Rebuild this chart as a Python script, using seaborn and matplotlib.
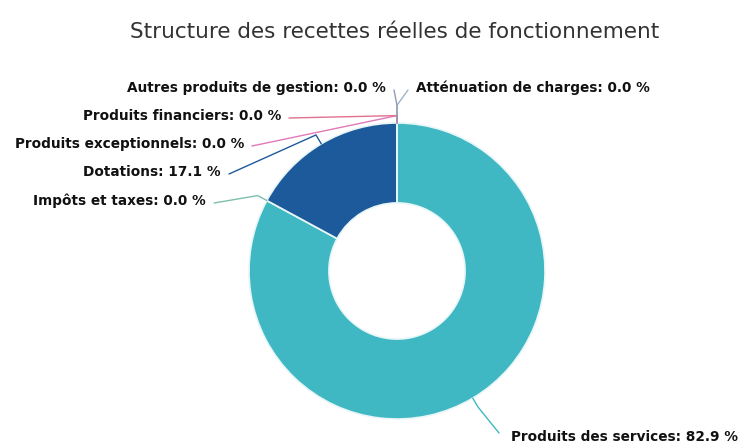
import numpy as np, pandas as pd
import matplotlib
matplotlib.use("Agg")
import matplotlib.pyplot as plt
import seaborn as sns

#%%
# data
categories = ['Atténuation de charges', 'Produits des services', 'Impôts et taxes', 'Dotations',
              'Produits exceptionnels', 'Produits financiers', 'Autres produits de gestion']
shares = [0.0, 82.9, 0.0, 17.1, 0.0, 0.0, 0.0]
slice_colors = ['#9fb3c8', '#3fb8c3', '#7dbfae', '#1d5a9c', '#e07ab8', '#e0708f', '#8e9bb8']

recettes = pd.DataFrame({'categorie': categories, 'part': shares, 'couleur': slice_colors})

#%%
sns.set_theme(style="white")
plt.rcParams['font.family'] = ['DejaVu Sans']

W, H = 747, 444
cx, cy, R = 397, 271, 148   # pie centre / radius in pixels

fig = plt.figure(figsize=(W / 100, H / 100), dpi=100)
ax = fig.add_axes([0, 0, 1, 1])

ax.pie(recettes['part'], colors=recettes['couleur'], startangle=90, counterclock=False,
       radius=1, wedgeprops=dict(width=0.54, edgecolor='#e8f6f8', linewidth=1.2))
ax.set_xlim(-cx / R, (W - cx) / R)
ax.set_ylim(-(H - cy) / R, cy / R)
ax.set_aspect('equal')
ax.axis('off')

def px(x, y):
    # pixel position -> data coords
    return (x - cx) / R, (cy - y) / R

# label anchor (pixels) and side, layout only
label_pos = {
    'Atténuation de charges': (416, 88, 'left'),
    'Produits des services': (511, 437, 'left'),
    'Impôts et taxes': (206, 201, 'right'),
    'Dotations': (221, 172, 'right'),
    'Produits exceptionnels': (244, 144, 'right'),
    'Produits financiers': (281, 116, 'right'),
    'Autres produits de gestion': (386, 88, 'right'),
}
elbow_r = {'Atténuation de charges': 1.12, 'Autres produits de gestion': 1.12,
           'Produits financiers': 1.05, 'Produits exceptionnels': 1.05}

total = recettes['part'].sum()
cum = recettes['part'].cumsum() - recettes['part'] / 2
for cat, mid, col, val in zip(recettes['categorie'], cum, recettes['couleur'], recettes['part']):
    theta = np.deg2rad(mid / total * 360)
    if cat == 'Autres produits de gestion':
        theta = 2 * np.pi
    ex, ey = np.sin(theta), np.cos(theta)
    r2 = elbow_r.get(cat, 1.07)
    lx, ly, side = label_pos[cat]
    tx, ty = px(lx + (-8 if side == 'left' else 8), ly + 2)
    if cat == 'Produits des services':
        tx, ty = px(lx - 12, ly - 4)
    ax.plot([ex, ex * r2, tx], [ey, ey * r2, ty], color=col, lw=1, solid_capstyle='round')
    x, y = px(lx, ly)
    ax.text(x, y, f"{cat}: {val:.1f} %", ha=side, va='center', fontsize=9.8,
            fontweight='bold', color='#111111')

ax.text(*px(395, 32), 'Structure des recettes réelles de fonctionnement', ha='center', va='center',
        fontsize=15.5, color='#333333')

plt.savefig('out.png', dpi=100)
